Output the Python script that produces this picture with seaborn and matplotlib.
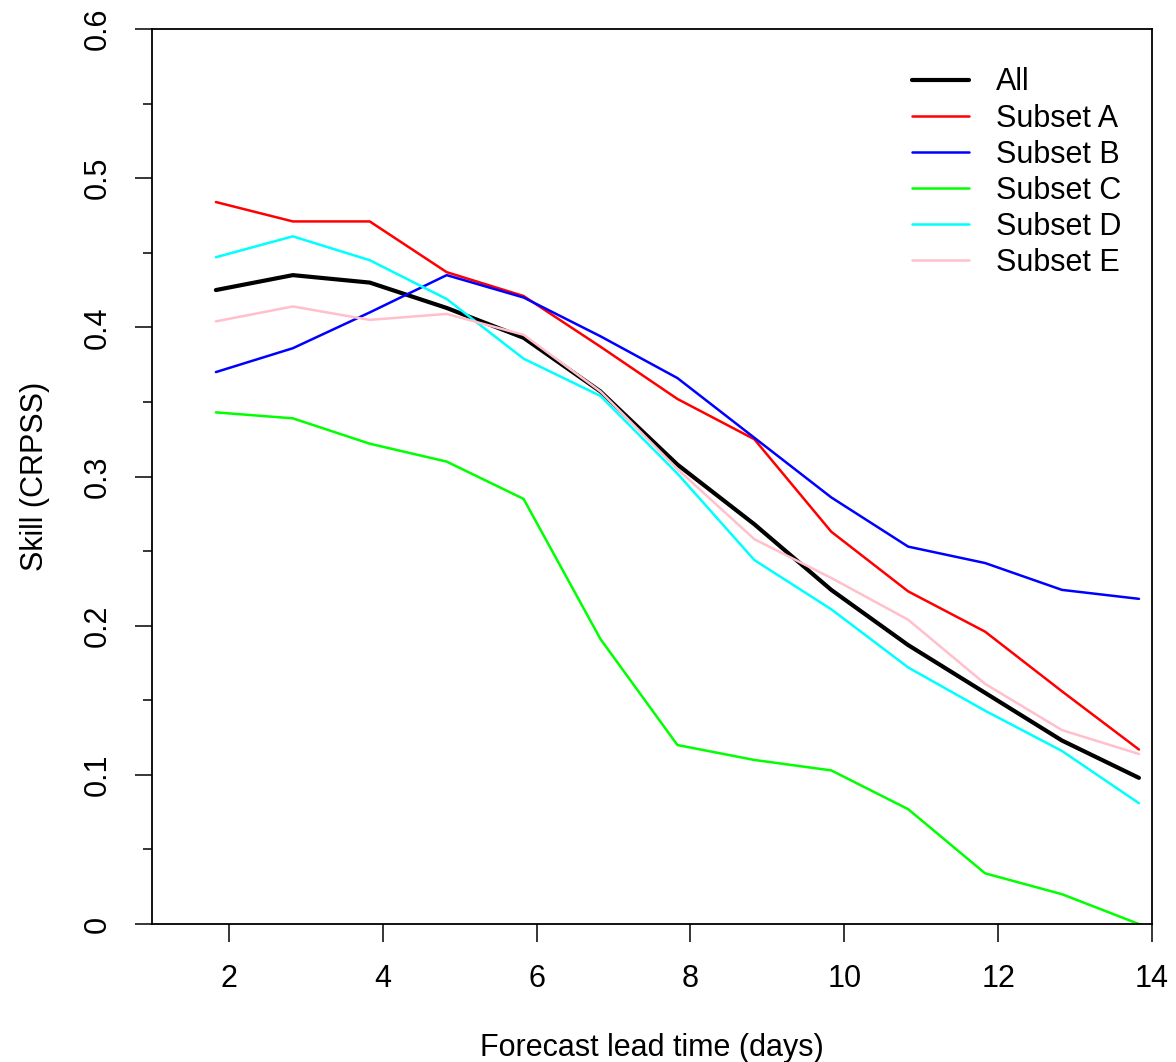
import numpy as np
import pandas as pd
import matplotlib
matplotlib.use("Agg")
import matplotlib.pyplot as plt
import seaborn as sns

# DATA

lead_time = [1.83, 2.83, 3.83, 4.83, 5.83, 6.83, 7.83, 8.83, 9.83, 10.83, 11.83, 12.83, 13.83]

skill_all = [0.425, 0.435, 0.430, 0.413, 0.393, 0.357, 0.308, 0.268, 0.224, 0.187, 0.155, 0.123, 0.098]
skill_a = [0.484, 0.471, 0.471, 0.437, 0.421, 0.387, 0.352, 0.325, 0.263, 0.223, 0.196, 0.156, 0.117]
skill_b = [0.370, 0.386, 0.410, 0.435, 0.420, 0.394, 0.366, 0.326, 0.286, 0.253, 0.242, 0.224, 0.218]
skill_c = [0.343, 0.339, 0.322, 0.310, 0.285, 0.191, 0.120, 0.110, 0.103, 0.077, 0.034, 0.020, 0.000]
skill_d = [0.447, 0.461, 0.445, 0.419, 0.379, 0.354, 0.302, 0.244, 0.211, 0.172, 0.143, 0.116, 0.081]
skill_e = [0.404, 0.414, 0.405, 0.409, 0.395, 0.357, 0.305, 0.258, 0.232, 0.204, 0.161, 0.130, 0.114]

series_names = ["All", "Subset A", "Subset B", "Subset C", "Subset D", "Subset E"]
series_values = [skill_all, skill_a, skill_b, skill_c, skill_d, skill_e]
series_colors = ["black", "#ff0000", "#0000ff", "#00ff00", "#00ffff", "#ffc0cb"]
series_widths = [3.0, 1.8, 1.8, 1.8, 1.8, 1.8]

x_ticks = [2, 4, 6, 8, 10, 12, 14]
y_ticks = [0, 0.1, 0.2, 0.3, 0.4, 0.5, 0.6]
y_tick_labels = ["0", "0.1", "0.2", "0.3", "0.4", "0.5", "0.6"]

# LONG TABLE

rows = []
for name, vals in zip(series_names, series_values):
    for x, v in zip(lead_time, vals):
        rows.append({"lead": x, "skill": v, "series": name})
df = pd.DataFrame(rows)

# STYLE

sns.set_theme(style="ticks")
plt.rcParams["font.family"] = ["Liberation Sans", "DejaVu Sans"]
plt.rcParams["font.size"] = 22
plt.rcParams["text.color"] = "black"
plt.rcParams["axes.labelcolor"] = "black"
plt.rcParams["xtick.color"] = "black"
plt.rcParams["ytick.color"] = "black"

fig = plt.figure(figsize=(11.76, 10.62), dpi=100)
ax = fig.add_axes([0.1293, 0.1299, 0.8503, 0.8428])

for name, color, lw in zip(series_names, series_colors, series_widths):
    sns.lineplot(
        data=df[df["series"] == name],
        x="lead",
        y="skill",
        color=color,
        linewidth=lw,
        label=name,
        ax=ax,
    )

ax.set_xlim(1, 14)
ax.set_ylim(0, 0.6)

ax.set_xticks(x_ticks)
ax.set_xticklabels([str(t) for t in x_ticks])
ax.set_yticks(y_ticks)
ax.set_yticklabels(y_tick_labels, rotation=90, va="center")
ax.set_yticks(np.arange(0.05, 0.6, 0.1), minor=True)

ax.tick_params(axis="x", which="major", direction="out", length=13,
               width=1.1, labelsize=22, pad=16)
ax.tick_params(axis="y", which="major", direction="out", length=12,
               width=1.1, labelsize=22, pad=16)
ax.tick_params(axis="y", which="minor", direction="out", length=6.5,
               width=1.1)

for side in ["left", "right", "top", "bottom"]:
    ax.spines[side].set_visible(True)
    ax.spines[side].set_color("black")
    ax.spines[side].set_linewidth(1.3)

ax.set_xlabel("Forecast lead time (days)", fontsize=22, labelpad=28)
ax.set_ylabel("Skill (CRPSS)", fontsize=22, labelpad=24)

ax.legend(
    loc="upper left",
    bbox_to_anchor=(0.76, 0.957),
    frameon=False,
    fontsize=22,
    handlelength=1.87,
    handletextpad=0.88,
    labelspacing=0.2,
    borderpad=0,
    borderaxespad=0,
)

fig.savefig("out.png", dpi=100)
